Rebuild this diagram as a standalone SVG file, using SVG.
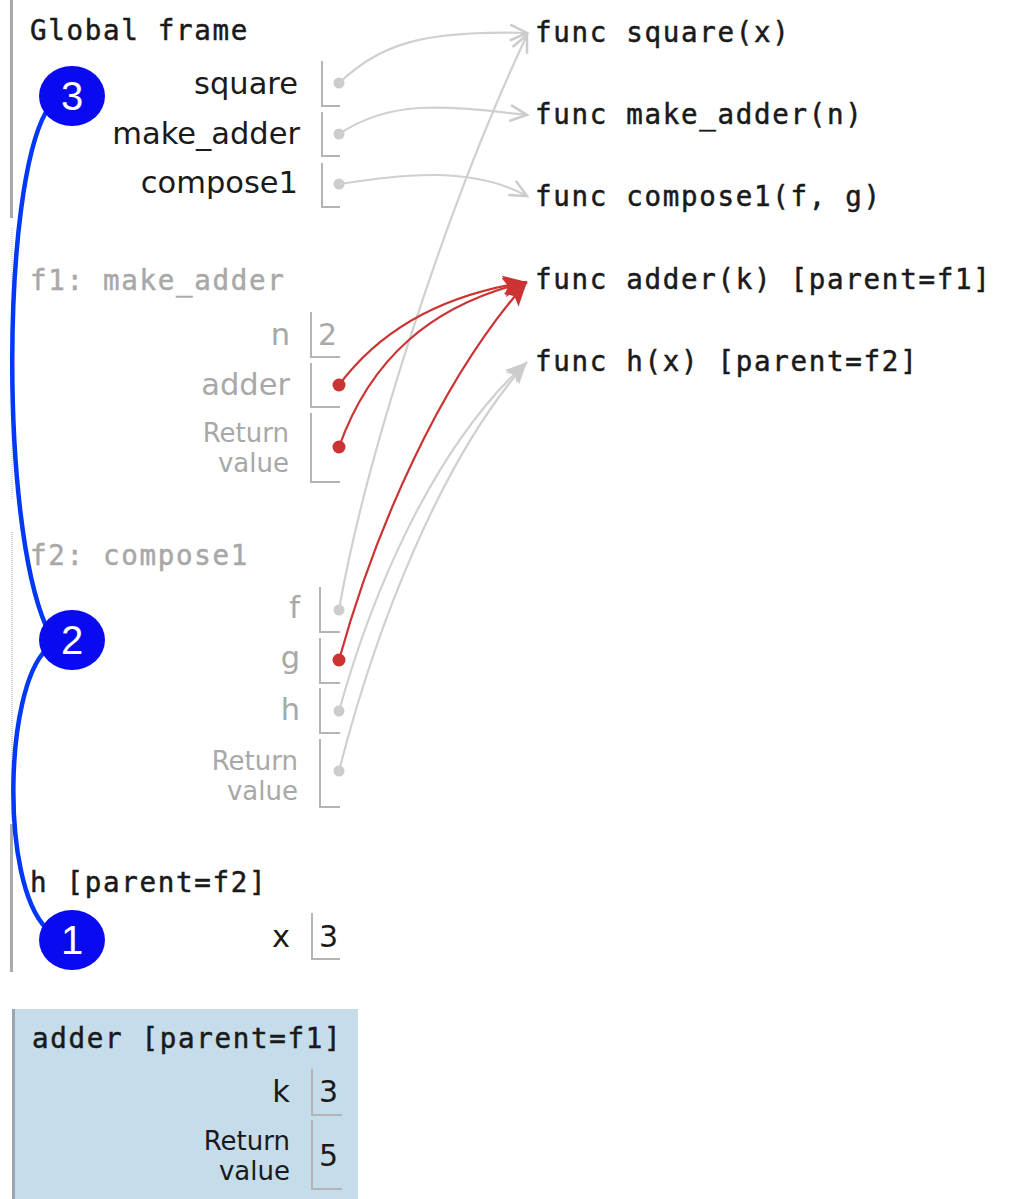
<svg xmlns="http://www.w3.org/2000/svg" width="1015" height="1199" viewBox="0 0 1015 1199">
<style>
.mono{font-family:"DejaVu Sans Mono","Liberation Mono",monospace;font-size:27.5px;letter-spacing:1.7px;stroke-width:0.5px}
.dark{fill:#1a1a1a}
.mono.dark{stroke:#1a1a1a}
.grey{fill:#a8a8a8}
.mono.grey{stroke:#a8a8a8}
.lbl{font-family:"DejaVu Sans","Liberation Sans",sans-serif;font-size:30.5px;text-anchor:end}
.small{font-family:"DejaVu Sans","Liberation Sans",sans-serif;font-size:26px;text-anchor:end}
.val{font-family:"DejaVu Sans","Liberation Sans",sans-serif;font-size:30px}
.box{fill:none;stroke:#b4b4b4;stroke-width:2}
.gdot{fill:#cccccc}
.rdot{fill:#cc3333}
.garrow{fill:none;stroke:#d0d0d0;stroke-width:2.2}
.rarrow{fill:none;stroke:#cc3333;stroke-width:2.2}
.blue{fill:none;stroke:#0038f5;stroke-width:4.5}
.badge{fill:#0a0af0}
.num{font-family:"Liberation Sans",Arial,sans-serif;font-size:40px;fill:#ffffff;text-anchor:middle}
</style>
<defs>
<marker id="gopen" markerWidth="24" markerHeight="24" refX="20" refY="10" orient="auto" markerUnits="userSpaceOnUse">
<path d="M3,2 L20,10 L3,18" fill="none" stroke="#cccccc" stroke-width="2.5"/>
</marker>
<marker id="gfill" markerWidth="26" markerHeight="24" refX="22" refY="10" orient="auto" markerUnits="userSpaceOnUse">
<path d="M0,1 L22,10 L0,19 L5,10 z" fill="#cccccc"/>
</marker>
<marker id="rfill" markerWidth="28" markerHeight="26" refX="24" refY="11" orient="auto" markerUnits="userSpaceOnUse">
<path d="M0,1 L24,11 L0,21 L5,11 z" fill="#cc3333"/>
</marker>
</defs>
<rect width="1015" height="1199" fill="#ffffff"/>

<g id="global-frame">
<rect x="10" y="0" width="3" height="218" fill="#aaaaaa"/>
<text class="mono dark" x="30" y="40">Global frame</text>
<text class="lbl dark" x="298" y="94">square</text>
<text class="lbl dark" x="300" y="144">make_adder</text>
<text class="lbl dark" x="298" y="193">compose1</text>
<path class="box" d="M322,61 V106 H340"/>
<path class="box" d="M322,112 V156 H340"/>
<path class="box" d="M322,163 V207 H340"/>
<circle class="gdot" cx="339" cy="83" r="5.5"/>
<circle class="gdot" cx="339" cy="134" r="5.5"/>
<circle class="gdot" cx="339" cy="184" r="5.5"/>
</g>

<g id="f1-frame">
<line x1="12" y1="228" x2="12" y2="500" stroke="#dddddd" stroke-width="2" stroke-dasharray="1,1"/>
<text class="mono grey" x="30" y="290">f1: make_adder</text>
<text class="lbl grey" x="290" y="345">n</text>
<text class="val grey" x="318" y="345">2</text>
<text class="lbl grey" x="290" y="395">adder</text>
<text class="small grey" x="289" y="442">Return</text>
<text class="small grey" x="289" y="472">value</text>
<path class="box" d="M311,312 V357 H340"/>
<path class="box" d="M311,363 V407 H340"/>
<path class="box" d="M311,413 V482 H340"/>
<circle class="rdot" cx="339" cy="385" r="6.5"/>
<circle class="rdot" cx="339" cy="447" r="6.5"/>
</g>

<g id="f2-frame">
<line x1="12" y1="532" x2="12" y2="822" stroke="#d0d0d0" stroke-width="2" stroke-dasharray="1,1"/>
<text class="mono grey" x="30" y="565">f2: compose1</text>
<text class="lbl grey" x="300" y="618">f</text>
<text class="lbl grey" x="300" y="668">g</text>
<text class="lbl grey" x="300" y="720">h</text>
<text class="small grey" x="298" y="770">Return</text>
<text class="small grey" x="298" y="800">value</text>
<path class="box" d="M320,587 V632 H340"/>
<path class="box" d="M320,638 V683 H340"/>
<path class="box" d="M320,688 V733 H340"/>
<path class="box" d="M320,739 V807 H340"/>
<circle class="gdot" cx="339" cy="610" r="5.5"/>
<circle class="rdot" cx="339" cy="660" r="6.5"/>
<circle class="gdot" cx="339" cy="711" r="5.5"/>
<circle class="gdot" cx="339" cy="771" r="5.5"/>
</g>

<g id="h-frame">
<rect x="10" y="824" width="3" height="148" fill="#aaaaaa"/>
<text class="mono dark" x="30" y="892">h [parent=f2]</text>
<text class="lbl dark" x="290" y="947">x</text>
<path class="box" d="M312,913 V959 H340"/>
<text class="val dark" x="319" y="947">3</text>
</g>

<g id="adder-frame">
<rect x="12" y="1009" width="346" height="190" fill="#c5dcea"/>
<rect x="12" y="1009" width="3" height="190" fill="#9aa6ae"/>
<text class="mono dark" x="32" y="1048">adder [parent=f1]</text>
<text class="lbl dark" x="290" y="1102">k</text>
<path class="box" d="M312,1069 V1115 H342"/>
<text class="val dark" x="319" y="1102">3</text>
<text class="small dark" x="290" y="1150">Return</text>
<text class="small dark" x="290" y="1180">value</text>
<path class="box" d="M312,1120 V1189 H342"/>
<text class="val dark" x="319" y="1166">5</text>
</g>

<g id="func-square"><text class="mono dark" x="535" y="42">func square(x)</text></g>
<g id="func-make_adder"><text class="mono dark" x="535" y="124">func make_adder(n)</text></g>
<g id="func-compose1"><text class="mono dark" x="535" y="206">func compose1(f, g)</text></g>
<g id="func-adder"><text class="mono dark" x="535" y="289">func adder(k) [parent=f1]</text></g>
<g id="func-h"><text class="mono dark" x="535" y="371">func h(x) [parent=f2]</text></g>

<g id="connectors">
<path class="garrow" d="M339,83 C380,45 420,30 527,33" marker-end="url(#gopen)"/>
<path class="garrow" d="M339,134 C390,100 440,105 527,115" marker-end="url(#gopen)"/>
<path class="garrow" d="M339,184 C400,175 470,165 527,196" marker-end="url(#gopen)"/>
<path class="garrow" d="M339,610 C365,460 445,210 527,35" marker-end="url(#gopen)"/>
<path class="garrow" d="M339,711 C370,600 430,450 527,362" marker-end="url(#gfill)"/>
<path class="garrow" d="M339,771 C375,630 440,460 527,362" marker-end="url(#gfill)"/>
<path class="rarrow" d="M339,385 C380,330 440,295 527,282" marker-end="url(#rfill)"/>
<path class="rarrow" d="M339,447 C370,360 430,305 527,282" marker-end="url(#rfill)"/>
<path class="rarrow" d="M339,660 C375,530 440,380 527,282" marker-end="url(#rfill)"/>
<path class="blue" d="M46,112 C2,190 0,520 46,626"/>
<path class="blue" d="M46,650 C5,690 0,880 46,928"/>
</g>

<g id="badge-3"><ellipse class="badge" cx="72" cy="96" rx="33" ry="30"/><text class="num" x="72" y="110">3</text></g>
<g id="badge-2"><ellipse class="badge" cx="72" cy="640" rx="33" ry="30"/><text class="num" x="72" y="654">2</text></g>
<g id="badge-1"><ellipse class="badge" cx="72" cy="940" rx="33" ry="30"/><text class="num" x="72" y="954">1</text></g>
</svg>
